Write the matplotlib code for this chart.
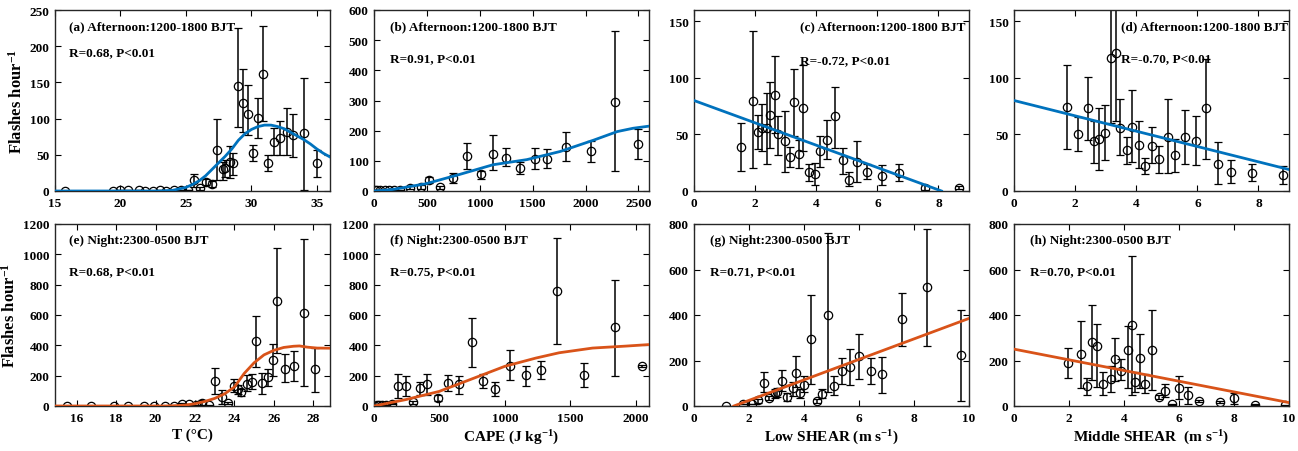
import numpy as np
import matplotlib
matplotlib.use("Agg")
import matplotlib.pyplot as plt

plt.rcParams["font.family"] = ["Liberation Serif", "DejaVu Serif"]
plt.rcParams["font.weight"] = "bold"
plt.rcParams["mathtext.fontset"] = "custom"
plt.rcParams["mathtext.rm"] = "Liberation Serif:bold"
plt.rcParams["mathtext.it"] = "Liberation Serif:italic:bold"
plt.rcParams["mathtext.bf"] = "Liberation Serif:bold"

BLUE = "#0072BD"
ORANGE = "#D95319"

# (a) afternoon, temperature
a_x = [15.8, 19.4, 20.0, 20.6, 21.4, 21.9, 22.5, 23.0, 23.5, 24.05, 24.6, 25.15, 25.6, 26.1, 26.5, 27.0,
       27.4, 27.8, 28.0, 28.4, 28.6, 29.0, 29.35, 29.75, 30.15, 30.5, 30.9, 31.3, 31.75, 32.2, 32.7,
       33.2, 34.0, 35.0]
a_y = [0, 0, 1, 1, 1, 0, 0, 1, 0, 1, 1, 1, 15, 4, 13, 10, 57, 30, 32, 40, 38, 145, 121, 106, 53, 101,
       162, 39, 67, 73, 81, 77, 80, 38]
a_lo = [0, 0, 1, 1, 1, 0, 0, 1, 0, 1, 1, 1, 5, 2, 8, 6, 15, 15, 19, 18, 22, 88, 82, 78, 41, 73, 97, 27,
        50, 50, 50, 47, 2, 20]
a_hi = [0, 0, 1, 1, 1, 0, 0, 1, 0, 1, 1, 1, 24, 6, 17, 14, 100, 40, 43, 62, 52, 225, 168, 147, 64, 128,
        228, 50, 87, 97, 115, 106, 156, 57]
a_fit_x = [15, 20, 23, 24, 24.5, 25, 25.5, 26, 26.5, 27, 27.5, 28, 28.5, 29, 29.5, 30, 30.5, 31, 31.5,
           32, 32.5, 33, 33.5, 34, 34.5, 35, 35.5, 36]
a_fit_y = [0, 0, 0, 1, 3, 5, 9, 14, 21, 30, 39, 48, 58, 70, 79, 85, 89, 91, 91, 89, 86, 81, 76, 71, 65,
           58, 52, 47]

# (b) afternoon, CAPE
b_x = [10, 30, 60, 100, 140, 190, 250, 340, 447, 523, 625, 749, 876, 1015, 1123, 1247, 1380, 1520,
       1640, 1811, 2053, 2275, 2497]
b_y = [2, 2, 3, 2, 3, 3, 4, 10, 13, 35, 13, 43, 116, 55, 124, 111, 75, 106, 106, 145, 131, 296, 157]
b_lo = [2, 2, 3, 2, 3, 3, 4, 5, 7, 27, 8, 25, 72, 40, 70, 82, 55, 73, 77, 99, 95, 65, 105]
b_hi = [2, 2, 3, 2, 3, 3, 4, 16, 20, 45, 18, 60, 160, 67, 184, 143, 95, 143, 140, 194, 166, 530, 205]
b_fit_x = [0, 175, 490, 810, 1125, 1445, 1760, 2080, 2300, 2450, 2600]
b_fit_y = [0, 5, 24, 55, 87, 104, 131, 169, 197, 208, 215]

# (c) afternoon, low shear
c_x = [1.53, 1.92, 2.08, 2.24, 2.38, 2.5, 2.66, 2.76, 2.98, 3.13, 3.26, 3.43, 3.57, 3.75, 3.96, 4.12,
       4.34, 4.62, 4.86, 5.07, 5.32, 5.67, 6.16, 6.71, 7.55, 8.68]
c_y = [39, 80, 52, 56, 56, 67, 85, 50, 44, 30, 79, 33, 73, 17, 15, 35, 45, 66, 27, 10, 26, 17, 13, 16, 3, 3]
c_lo = [18, 20, 37, 35, 24, 38, 51, 32, 17, 21, 49, 20, 35, 9, 5, 21, 28, 38, 15, 4, 8, 11, 5, 9, 1, 2]
c_hi = [60, 141, 67, 77, 87, 96, 119, 66, 71, 39, 108, 45, 111, 24, 25, 49, 63, 92, 38, 17, 44, 24, 23,
        24, 5, 4]
c_fit_x = [0, 8.1]
c_fit_y = [80, 0]

# (d) afternoon, middle shear
d_x = [1.73, 2.11, 2.42, 2.63, 2.79, 2.99, 3.18, 3.35, 3.48, 3.7, 3.86, 4.08, 4.28, 4.5, 4.76, 5.03,
       5.28, 5.61, 5.95, 6.27, 6.68, 7.1, 7.79, 8.79]
d_y = [74, 50, 73, 44, 46, 51, 118, 122, 56, 36, 57, 41, 22, 40, 28, 48, 32, 48, 44, 73, 24, 17, 16, 14]
d_lo = [37, 35, 45, 25, 19, 27, 60, 62, 32, 24, 26, 20, 15, 25, 16, 16, 17, 24, 23, 28, 6, 7, 9, 6]
d_hi = [111, 65, 101, 62, 73, 76, 200, 200, 81, 48, 89, 62, 29, 57, 40, 81, 46, 72, 66, 117, 43, 27, 24, 22]
d_fit_x = [0, 9]
d_fit_y = [80, 19]

# (e) night, temperature
e_x = [15.5, 16.75, 17.9, 18.6, 19.4, 19.9, 20.5, 20.95, 21.35, 21.7, 22.05, 22.35, 22.7, 23.0, 23.35,
       23.7, 23.98, 24.19, 24.36, 24.66, 24.87, 25.1, 25.39, 25.68, 25.94, 26.16, 26.56, 27.0, 27.55, 28.09]
e_y = [0, 0, 0, 0, 2, 0, 0, 0, 15, 10, 5, 20, 5, 165, 58, 20, 135, 115, 95, 145, 155, 430, 150, 190,
       305, 695, 245, 265, 615, 243]
e_lo = [0, 0, 0, 0, 2, 0, 0, 0, 8, 5, 2, 5, 2, 78, 15, 12, 95, 80, 65, 100, 115, 260, 80, 130, 200, 350,
        160, 165, 130, 95]
e_hi = [0, 0, 0, 0, 2, 0, 0, 0, 20, 15, 8, 40, 8, 252, 108, 25, 180, 140, 115, 205, 210, 595, 215, 245,
        410, 1040, 340, 360, 1100, 380]
e_fit_x = [14.9, 20.5, 21, 21.5, 22, 22.5, 23, 23.5, 24, 24.5, 25, 25.5, 26, 26.5, 27, 27.3, 27.7, 28.2, 28.85]
e_fit_y = [0, 0, 2, 6, 15, 30, 50, 80, 125, 215, 285, 337, 367, 386, 394, 396, 388, 382, 381]

# (f) night, CAPE
f_x = [5, 20, 40, 60, 90, 140, 183, 245, 298, 352, 408, 489, 568, 650, 746, 833, 925, 1037, 1162, 1274,
       1399, 1600, 1839, 2043]
f_y = [2, 4, 6, 5, 8, 15, 130, 130, 25, 118, 143, 50, 150, 143, 420, 165, 115, 263, 205, 235, 760, 205,
       520, 263]
f_lo = [2, 4, 6, 5, 8, 12, 55, 65, 15, 75, 75, 30, 100, 80, 255, 120, 65, 170, 135, 175, 410, 125, 200, 258]
f_hi = [2, 4, 6, 5, 8, 18, 210, 200, 35, 160, 210, 75, 205, 200, 580, 210, 160, 370, 265, 295, 1110, 285,
        830, 268]
f_fit_x = [0, 242, 497, 752, 1000, 1236, 1414, 1669, 1924, 2100]
f_fit_y = [0, 42, 96, 180, 262, 316, 351, 382, 395, 405]

# (g) night, low shear
g_x = [1.18, 1.78, 2.12, 2.33, 2.53, 2.73, 2.93, 3.03, 3.2, 3.39, 3.6, 3.72, 3.87, 4.01, 4.25, 4.46, 4.67,
       4.88, 5.09, 5.38, 5.67, 6.0, 6.42, 6.82, 7.56, 8.48, 9.72]
g_y = [2, 8, 10, 25, 103, 35, 55, 62, 108, 40, 77, 145, 57, 93, 295, 23, 52, 402, 90, 155, 171, 219, 156,
       142, 382, 522, 222]
g_lo = [2, 8, 10, 15, 60, 25, 35, 40, 65, 20, 45, 85, 35, 60, 95, 15, 35, 60, 50, 95, 92, 120, 95, 55,
        265, 265, 20]
g_hi = [2, 8, 10, 30, 150, 45, 75, 80, 160, 55, 105, 220, 75, 130, 490, 30, 75, 760, 130, 210, 250, 316,
        210, 215, 495, 780, 420]
g_fit_x = [1.45, 10]
g_fit_y = [0, 385]

# (h) night, middle shear
h_x = [1.96, 2.44, 2.65, 2.83, 3.01, 3.23, 3.52, 3.68, 3.9, 4.13, 4.28, 4.41, 4.57, 4.78, 5.0, 5.26, 5.49,
       5.76, 6.0, 6.31, 6.72, 7.5, 8.0, 8.77, 9.85]
h_y = [189, 227, 88, 281, 263, 98, 117, 208, 156, 248, 354, 105, 210, 98, 244, 40, 68, 7, 80, 47, 22, 17,
       37, 6, 3]
h_lo = [125, 80, 50, 115, 85, 50, 60, 110, 115, 80, 50, 60, 80, 55, 70, 30, 40, 5, 30, 10, 18, 13, 10, 4, 2]
h_hi = [255, 375, 125, 445, 360, 150, 175, 300, 205, 350, 660, 150, 315, 140, 420, 50, 95, 10, 130, 85,
        26, 21, 55, 8, 4]
h_fit_x = [0, 10]
h_fit_y = [250, 15]

titles = ["(a) Afternoon:1200-1800 BJT", "(b) Afternoon:1200-1800 BJT", "(c) Afternoon:1200-1800 BJT",
          "(d) Afternoon:1200-1800 BJT", "(e) Night:2300-0500 BJT", "(f) Night:2300-0500 BJT",
          "(g) Night:2300-0500 BJT", "(h) Night:2300-0500 BJT"]
stats = ["R=0.68, P<0.01", "R=0.91, P<0.01", "R=-0.72, P<0.01", "R=-0.70, P<0.01",
         "R=0.68, P<0.01", "R=0.75, P<0.01", "R=0.71, P<0.01", "R=0.70, P<0.01"]
xlabels = ["T (\u00b0C)", "CAPE (J kg$^{-1}$)", "Low SHEAR (m s$^{-1}$)", "Middle SHEAR  (m s$^{-1}$)"]

panels = [
    (a_x, a_y, a_lo, a_hi, a_fit_x, a_fit_y, BLUE, (15, 36), np.arange(15, 36, 5), (0, 250), np.arange(0, 251, 50)),
    (b_x, b_y, b_lo, b_hi, b_fit_x, b_fit_y, BLUE, (0, 2600), np.arange(0, 2501, 500), (0, 600), np.arange(0, 601, 100)),
    (c_x, c_y, c_lo, c_hi, c_fit_x, c_fit_y, BLUE, (0, 9), np.arange(0, 9, 2), (0, 160), np.arange(0, 151, 50)),
    (d_x, d_y, d_lo, d_hi, d_fit_x, d_fit_y, BLUE, (0, 9), np.arange(0, 9, 2), (0, 160), np.arange(0, 151, 50)),
    (e_x, e_y, e_lo, e_hi, e_fit_x, e_fit_y, ORANGE, (14.9, 28.85), np.arange(16, 29, 2), (0, 1200), np.arange(0, 1201, 200)),
    (f_x, f_y, f_lo, f_hi, f_fit_x, f_fit_y, ORANGE, (0, 2100), np.arange(0, 2001, 500), (0, 1200), np.arange(0, 1201, 200)),
    (g_x, g_y, g_lo, g_hi, g_fit_x, g_fit_y, ORANGE, (0, 10), np.arange(0, 11, 2), (0, 800), np.arange(0, 801, 200)),
    (h_x, h_y, h_lo, h_hi, h_fit_x, h_fit_y, ORANGE, (0, 10), np.arange(0, 11, 2), (0, 800), np.arange(0, 801, 200)),
]

W, H = 1298, 452
fig = plt.figure(figsize=(W / 100, H / 100), dpi=100)
lefts = [55, 374, 694, 1014]
tops = [11, 225]
heights = [181, 182]
text_x = [0.05, 0.058, 0.385, 0.39, 0.05, 0.058, 0.058, 0.058]
stat_y = [0.765, 0.735, 0.725, 0.735, 0.742, 0.742, 0.742, 0.742]

for i, (x, y, lo, hi, fx, fy, col, xl, xt, yl, yt) in enumerate(panels):
    r, c = divmod(i, 4)
    ax = fig.add_axes([lefts[c] / W, 1 - (tops[r] + heights[r]) / H, 275 / W, heights[r] / H])
    x = np.array(x); y = np.array(y)
    yerr = [y - np.array(lo), np.array(hi) - y]
    ax.errorbar(x, y, yerr=yerr, fmt="o", mfc="none", mec="k", ms=6, mew=0.9,
                ecolor="k", elinewidth=1.1, capsize=3, capthick=1.1, zorder=2)
    ax.plot(fx, fy, color=col, lw=2, zorder=3)
    ax.set_xlim(xl); ax.set_ylim(yl)
    ax.set_xticks(xt); ax.set_yticks(yt)
    ax.tick_params(direction="in", top=True, right=True, length=4, width=0.8, labelsize=9.5, pad=4)
    for s in ax.spines.values():
        s.set_linewidth(1.0)
        s.set_color("#262626")
    ax.text(text_x[i], 0.91, titles[i], transform=ax.transAxes, fontsize=9.5, fontweight="bold", va="center")
    ax.text(text_x[i], stat_y[i], stats[i], transform=ax.transAxes, fontsize=9.5, fontweight="bold", va="center")
    if c == 0:
        ax.set_ylabel("Flashes hour$^{-1}$", fontsize=12, fontweight="bold", labelpad=3)
    if r == 1:
        ax.set_xlabel(xlabels[c], fontsize=11, fontweight="bold", labelpad=3)

fig.savefig("out.png", dpi=100)
